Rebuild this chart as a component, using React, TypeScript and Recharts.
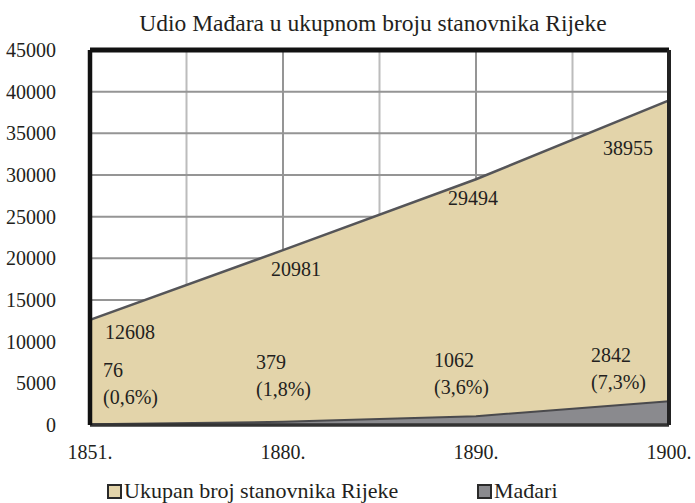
import React from 'react';
import { AreaChart, Area, XAxis, YAxis, CartesianGrid, LabelList } from 'recharts';

const title = 'Udio Mađara u ukupnom broju stanovnika Rijeke';
const years = ['1851.', '1880.', '1890.', '1900.'];
const total = [12608, 20981, 29494, 38955];
const madari = [76, 379, 1062, 2842];
const seriesNames = ['Ukupan broj stanovnika Rijeke', 'Mađari'];
const yTicks = [0, 5000, 10000, 15000, 20000, 25000, 30000, 35000, 40000, 45000];

const data = years.map((y, i) => ({ x: i * 2, year: y, total: total[i], madari: madari[i] }));

const FONT = '"Liberation Serif", serif';
const TAN = '#e3d4aa';
const GREY = '#8a8a8e';
const TXT = '#231f20';

// label offsets (styling)
const totalOffsets = [[40, 12], [13, 19], [-3, 19], [-41, 48]];
const madariOffsets = [[13, -54], [-27, -60], [-42, -56], [-78, -46]];
// legend marker positions (styling)
const legendLeft = [107, 477];

const TotalLabel = (props: any) => {
  const { x, y, index, value } = props;
  const [dx, dy] = totalOffsets[index];
  return (
    <text x={x + dx} y={y + dy} textAnchor="middle" dominantBaseline="central" fontFamily={FONT} fontSize={20} fill={TXT}>
      {value}
    </text>
  );
};

const MadariLabel = (props: any) => {
  const { x, y, index, value } = props;
  const [dx, dy] = madariOffsets[index];
  const pct = ((value / total[index]) * 100).toFixed(1).replace('.', ',');
  return (
    <text x={x + dx} y={y + dy} textAnchor="start" dominantBaseline="central" fontFamily={FONT} fontSize={20} fill={TXT}>
      <tspan x={x + dx} dy={0}>{value}</tspan>
      <tspan x={x + dx} dy={27}>({pct}%)</tspan>
    </text>
  );
};

const minorGen = (props: any) => {
  const { offset } = props;
  return [1, 3, 5].map((k) => offset.left + (offset.width * k) / 6);
};
const majorGen = (props: any) => {
  const { offset } = props;
  return [2, 4].map((k) => offset.left + (offset.width * k) / 6);
};

export default function App() {
  return (
    <div style={{ position: 'absolute', left: 0, top: 0, width: 695, height: 503, background: '#fff', fontFamily: FONT, color: TXT }}>
      <div style={{ position: 'absolute', left: 0, top: 8, width: 695, textAlign: 'center', fontSize: 23.5, lineHeight: '30px', paddingLeft: 51, boxSizing: 'border-box', whiteSpace: 'nowrap' }}>
        {title}
      </div>
      <AreaChart width={695} height={503} data={data} margin={{ top: 49, right: 25, left: 0, bottom: 38 }}>
        <CartesianGrid horizontal={false} vertical verticalCoordinatesGenerator={minorGen} stroke="#bcbcbc" strokeWidth={2} />
        <CartesianGrid horizontal vertical verticalCoordinatesGenerator={majorGen} stroke="#959595" strokeWidth={2} />
        <XAxis
          dataKey="x"
          type="number"
          domain={[0, 6]}
          ticks={[0, 2, 4, 6]}
          tickFormatter={(v: number) => years[v / 2]}
          axisLine={{ stroke: '#333333', strokeWidth: 3.5 }}
          tickLine={false}
          tickMargin={14}
          height={40}
          tick={{ fontFamily: FONT, fontSize: 20, fill: TXT }}
        />
        <XAxis
          xAxisId="top"
          orientation="top"
          dataKey="x"
          type="number"
          domain={[0, 6]}
          ticks={[0, 6]}
          height={1}
          tick={false}
          axisLine={{ stroke: '#111111', strokeWidth: 5 }}
        />
        <YAxis
          domain={[0, 45000]}
          ticks={yTicks}
          width={90}
          axisLine={{ stroke: '#111111', strokeWidth: 4.5 }}
          tickLine={false}
          tickMargin={28}
          tick={{ fontFamily: FONT, fontSize: 20, fill: TXT }}
        />
        <YAxis
          yAxisId="right"
          orientation="right"
          domain={[0, 45000]}
          ticks={[0, 45000]}
          width={1}
          tick={false}
          axisLine={{ stroke: '#222222', strokeWidth: 4 }}
        />
        <Area
          type="linear"
          dataKey="total"
          name={seriesNames[0]}
          stroke="#555558"
          strokeWidth={2.5}
          fill={TAN}
          fillOpacity={1}
          isAnimationActive={false}
        >
          <LabelList dataKey="total" content={TotalLabel} />
        </Area>
        <Area
          type="linear"
          dataKey="madari"
          name={seriesNames[1]}
          stroke="#4a4a4d"
          strokeWidth={2}
          fill={GREY}
          fillOpacity={1}
          isAnimationActive={false}
        >
          <LabelList dataKey="madari" content={MadariLabel} />
        </Area>
      </AreaChart>
      {seriesNames.map((n, i) => (
        <div key={n} style={{ position: 'absolute', left: legendLeft[i], top: 480, height: 22, display: 'flex', alignItems: 'center', fontSize: 22, whiteSpace: 'nowrap' }}>
          <span style={{ display: 'inline-block', width: 11, height: 11, border: '2px solid #2a2a2a', background: i === 0 ? TAN : GREY, marginRight: 2 }} />
          <span>{n}</span>
        </div>
      ))}
    </div>
  );
}
